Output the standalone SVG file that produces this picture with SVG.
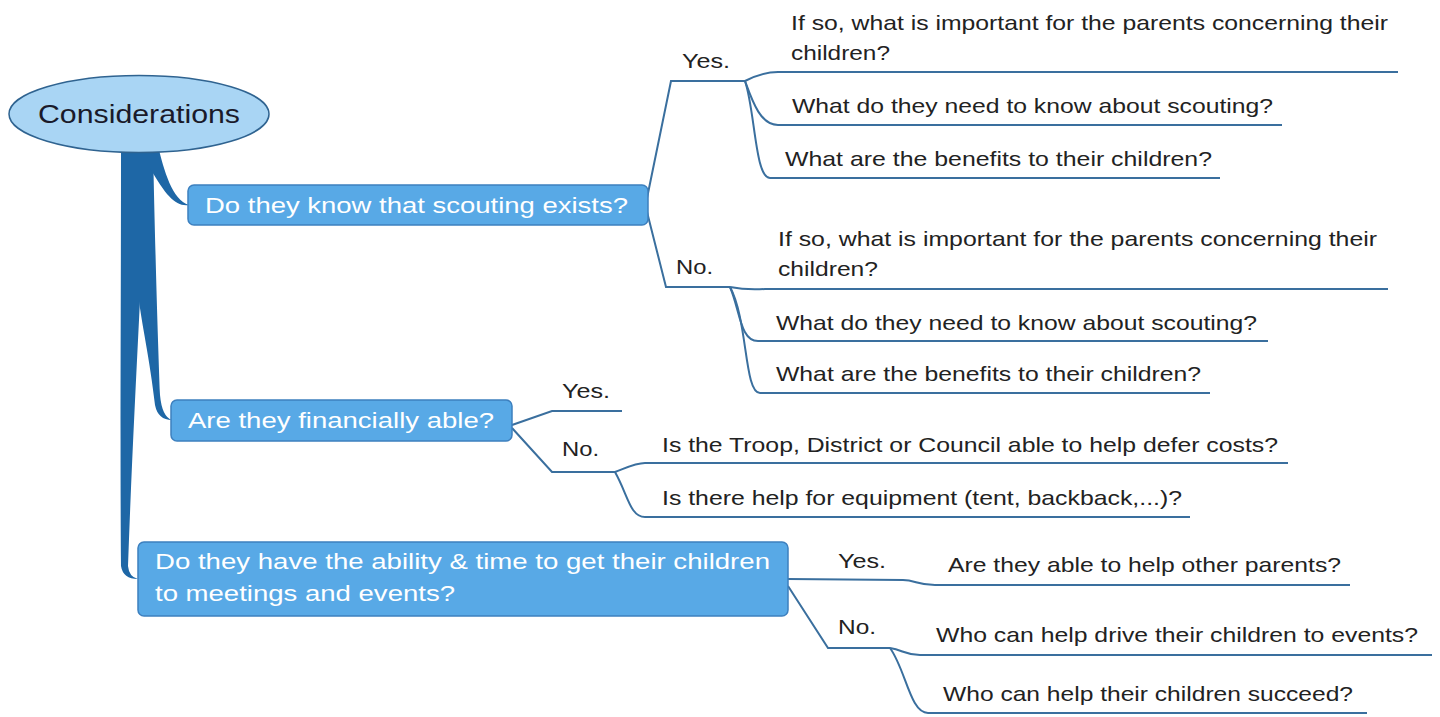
<svg xmlns="http://www.w3.org/2000/svg" width="1440" height="717" viewBox="0 0 1440 717">
<style>
.t{font-family:"Liberation Sans",Arial,sans-serif;font-size:21px;fill:#222;}
.w{font-family:"Liberation Sans",Arial,sans-serif;font-size:22px;fill:#fff;}
.c{fill:none;stroke:#3a6f9e;stroke-width:2;}
.tr{fill:#1e67a6;}
.n{fill:#58a9e6;stroke:#3d80bf;stroke-width:1.5;}
</style>
<rect width="1440" height="717" fill="#fff"/>
<g id="trunk">
<path class="tr" d="M121,145 L140,145 L140,300 C135,400 131,480 128,566 Q129,577 138,579 Q123,579 121,566 C120,450 121,300 121,145 Z"/>
<path class="tr" d="M136,145 L153,145 C155,250 158,340 160,395 Q162,417 172,420 Q158,420 155,405 C150,360 141,320 139,300 L136,300 Z"/>
<path class="tr" d="M140,148 L158,146 C164,170 172,200 189,205 C176,207 166,196 150,168 L140,168 Z"/>
</g>
<g id="connectors">
<path class="c" d="M646,203 L671,81 L745,81"/>
<path class="c" d="M745,81 C755,76 765,72 778,72 L1398,72"/>
<path class="c" d="M745,81 C752,100 760,125 778,125 L1282,125"/>
<path class="c" d="M745,81 C755,110 755,178 770,178 L1220,178"/>
<path class="c" d="M646,208 L666,287 L730,287"/>
<path class="c" d="M730,287 C740,289 750,290 765,289 L1388,289"/>
<path class="c" d="M730,287 C740,310 740,341 758,341 L1268,341"/>
<path class="c" d="M730,287 C748,320 744,393 760,393 L1210,393"/>
<path class="c" d="M512,425 L552,411 L622,411"/>
<path class="c" d="M512,428 L552,472 L615,472"/>
<path class="c" d="M615,472 C628,467 636,463 645,463 L1288,463"/>
<path class="c" d="M615,472 C628,495 630,517 645,517 L1190,517"/>
<path class="c" d="M788,579 L903,580 C915,580 918,585 935,585 L1350,585"/>
<path class="c" d="M788,586 L828,648 L890,648"/>
<path class="c" d="M890,648 C903,650 905,655 920,655 L1432,655"/>
<path class="c" d="M890,648 C906,670 910,713 928,713 L1367,713"/>
</g>
<g id="root">
<ellipse cx="139" cy="114" rx="130" ry="38.5" fill="#a9d5f4" stroke="#2f6390" stroke-width="1.5"/>
<text x="38" y="123" font-family="Liberation Sans,Arial,sans-serif" font-size="25" fill="#1a1a2a" textLength="202" lengthAdjust="spacingAndGlyphs">Considerations</text>
</g>
<g id="n1">
<rect class="n" x="188" y="185" width="460" height="40" rx="6"/>
<text class="w" x="205" y="213" textLength="423" lengthAdjust="spacingAndGlyphs">Do they know that scouting exists?</text>
</g>
<g id="n2">
<rect class="n" x="171" y="400" width="341" height="41" rx="6"/>
<text class="w" x="188" y="428" textLength="306" lengthAdjust="spacingAndGlyphs">Are they financially able?</text>
</g>
<g id="n3">
<rect class="n" x="138" y="542" width="650" height="74" rx="6"/>
<text class="w" x="155" y="569" textLength="615" lengthAdjust="spacingAndGlyphs">Do they have the ability &amp; time to get their children</text>
<text class="w" x="155" y="601" textLength="300" lengthAdjust="spacingAndGlyphs">to meetings and events?</text>
</g>
<g id="n1yes"><text class="t" x="682" y="68" textLength="48" lengthAdjust="spacingAndGlyphs">Yes.</text></g>
<g id="n1y1">
<text class="t" x="791" y="30" textLength="597" lengthAdjust="spacingAndGlyphs">If so, what is important for the parents concerning their</text>
<text class="t" x="791" y="60" textLength="99" lengthAdjust="spacingAndGlyphs">children?</text>
</g>
<g id="n1y2"><text class="t" x="792" y="113" textLength="481" lengthAdjust="spacingAndGlyphs">What do they need to know about scouting?</text></g>
<g id="n1y3"><text class="t" x="785" y="166" textLength="427" lengthAdjust="spacingAndGlyphs">What are the benefits to their children?</text></g>
<g id="n1no"><text class="t" x="676" y="274" textLength="37" lengthAdjust="spacingAndGlyphs">No.</text></g>
<g id="n1n1">
<text class="t" x="778" y="246" textLength="599" lengthAdjust="spacingAndGlyphs">If so, what is important for the parents concerning their</text>
<text class="t" x="778" y="276" textLength="100" lengthAdjust="spacingAndGlyphs">children?</text>
</g>
<g id="n1n2"><text class="t" x="776" y="330" textLength="481" lengthAdjust="spacingAndGlyphs">What do they need to know about scouting?</text></g>
<g id="n1n3"><text class="t" x="776" y="381" textLength="425" lengthAdjust="spacingAndGlyphs">What are the benefits to their children?</text></g>
<g id="n2yes"><text class="t" x="562" y="398" textLength="48" lengthAdjust="spacingAndGlyphs">Yes.</text></g>
<g id="n2no"><text class="t" x="562" y="456" textLength="37" lengthAdjust="spacingAndGlyphs">No.</text></g>
<g id="n2n1"><text class="t" x="662" y="452" textLength="616" lengthAdjust="spacingAndGlyphs">Is the Troop, District or Council able to help defer costs?</text></g>
<g id="n2n2"><text class="t" x="662" y="505" textLength="520" lengthAdjust="spacingAndGlyphs">Is there help for equipment (tent, backback,...)?</text></g>
<g id="n3yes"><text class="t" x="838" y="568" textLength="48" lengthAdjust="spacingAndGlyphs">Yes.</text></g>
<g id="n3y1"><text class="t" x="948" y="572" textLength="393" lengthAdjust="spacingAndGlyphs">Are they able to help other parents?</text></g>
<g id="n3no"><text class="t" x="838" y="634" textLength="38" lengthAdjust="spacingAndGlyphs">No.</text></g>
<g id="n3n1"><text class="t" x="936" y="642" textLength="482" lengthAdjust="spacingAndGlyphs">Who can help drive their children to events?</text></g>
<g id="n3n2"><text class="t" x="943" y="701" textLength="410" lengthAdjust="spacingAndGlyphs">Who can help their children succeed?</text></g>
</svg>
